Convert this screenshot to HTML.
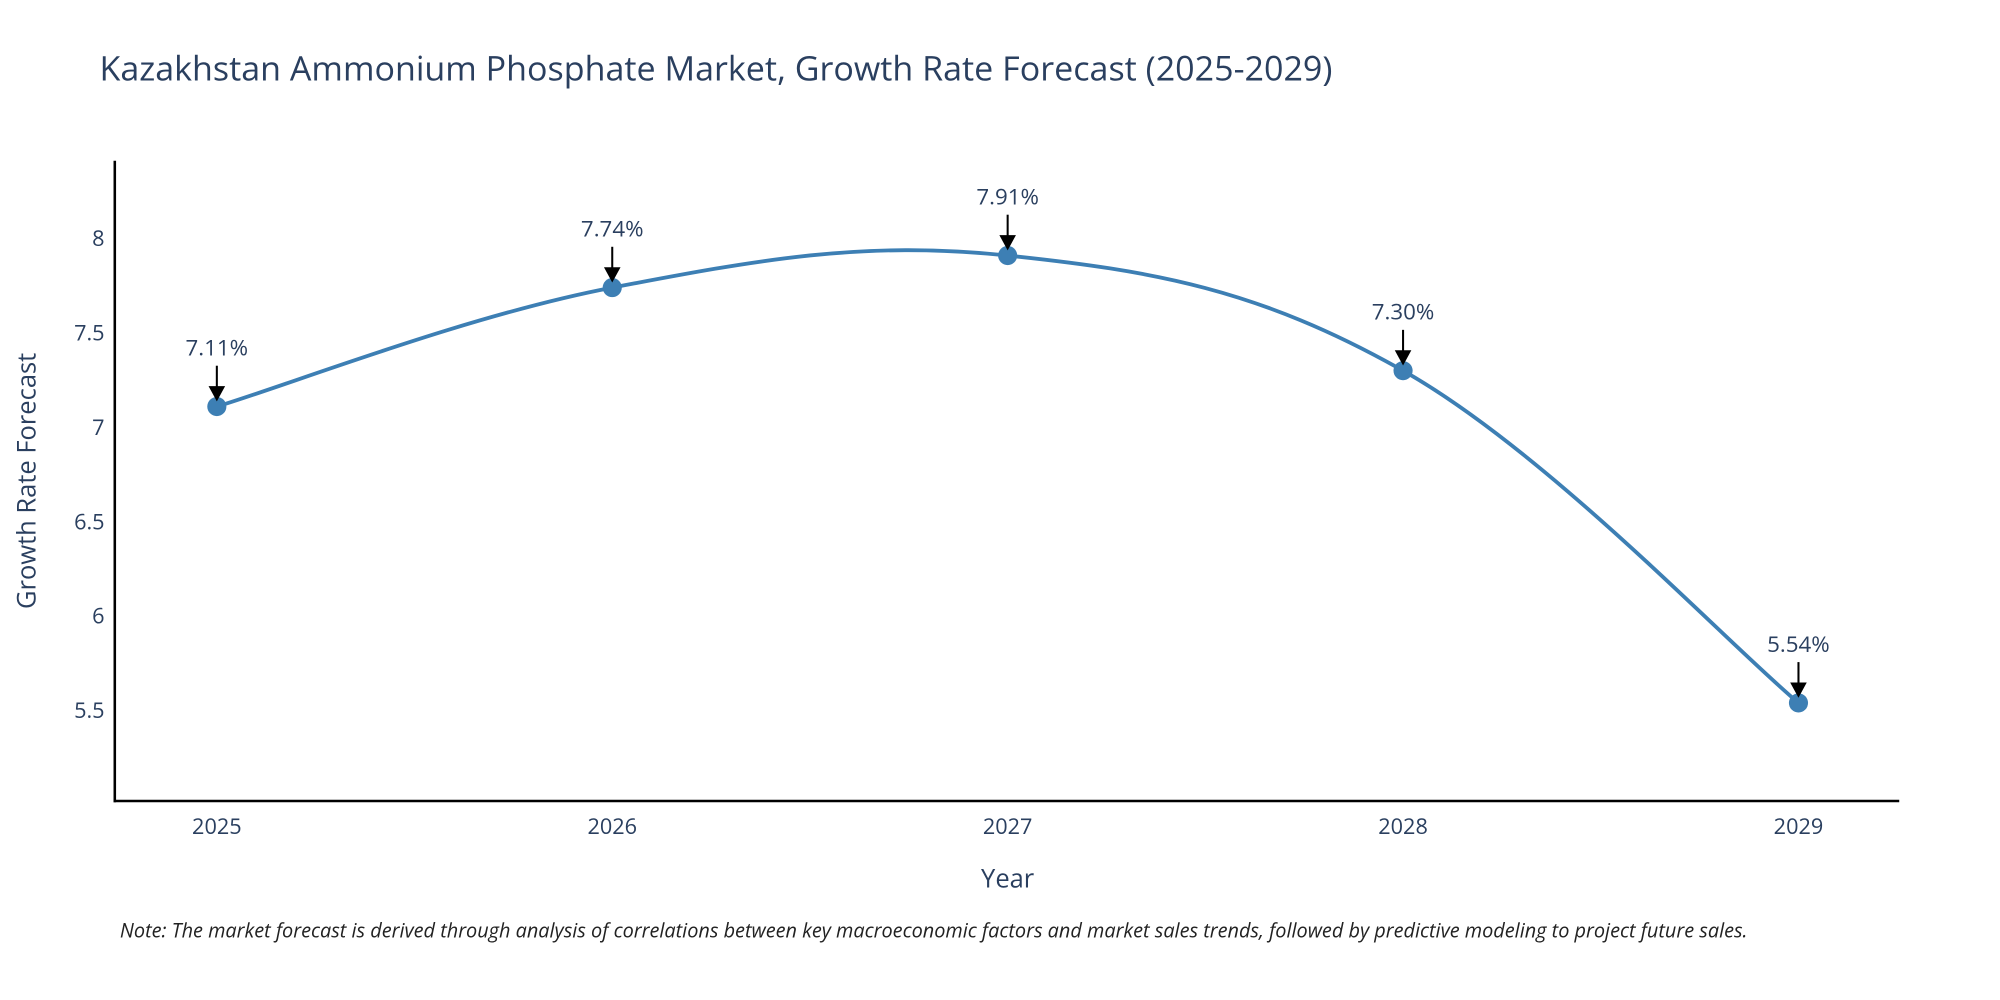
<!DOCTYPE html>
<html><head><meta charset="utf-8"><style>
html,body{margin:0;padding:0;background:#fff;}
svg{display:block;font-family:"Open Sans","Liberation Sans",sans-serif;}
</style></head><body>
<svg id="chart" width="2000" height="1000" viewBox="0 0 1568 784" xmlns="http://www.w3.org/2000/svg">
<rect width="1568" height="784" fill="#fff"/>
<text x="78" y="63" font-size="26.7" fill="#2a3f5f">Kazakhstan Ammonium Phosphate Market, Growth Rate Forecast (2025-2029)</text>
<g id="yticks"></g><g id="xticks"></g>
<line x1="90" y1="126" x2="90" y2="629" stroke="#000" stroke-width="2"/>
<line x1="89" y1="628" x2="1489" y2="628" stroke="#000" stroke-width="2"/>
<text transform="translate(28,377) rotate(-90)" text-anchor="middle" font-size="20" fill="#2a3f5f">Growth Rate Forecast</text>
<text x="790" y="696" text-anchor="middle" font-size="20" fill="#2a3f5f">Year</text>
<g id="series"></g>
<text x="94" y="735" font-size="15.6" font-style="italic" fill="#222">Note: The market forecast is derived through analysis of correlations between key macroeconomic factors and market sales trends, followed by predictive modeling to project future sales.</text>
</svg>
<script>
const years = [2025, 2026, 2027, 2028, 2029];
const values = [7.11, 7.74, 7.91, 7.30, 5.54];
const labels = ["7.11%", "7.74%", "7.91%", "7.30%", "5.54%"];
const yTicks = [5.5, 6, 6.5, 7, 7.5, 8];
const NS = "http://www.w3.org/2000/svg";
function xs(yr){ return 170 + (yr - 2025) * 310; }
function ys(v){ return 187 + (8 - v) * 148; }
function mk(tag, attrs, parent){ const e=document.createElementNS(NS,tag); for(const k in attrs) e.setAttribute(k,attrs[k]); parent.appendChild(e); return e; }
const yg=document.getElementById('yticks'), xg=document.getElementById('xticks'), sg=document.getElementById('series');
yTicks.forEach(t=>{
  const e=mk('text',{x:82,y:ys(t)+6,'text-anchor':'end','font-size':17,fill:'#2a3f5f'},yg);
  
  
  e.textContent=t;
});
years.forEach(yr=>{
  const e=mk('text',{x:xs(yr),y:654,'text-anchor':'middle','font-size':17,fill:'#2a3f5f'},xg);
  
  
  e.textContent=yr;
});
const P=years.map((yr,i)=>[xs(yr),ys(values[i])]);
let d=`M${P[0][0]},${P[0][1]}`;
const t=0.55;
for(let i=0;i<P.length-1;i++){
  const p0=P[Math.max(i-1,0)],p1=P[i],p2=P[i+1],p3=P[Math.min(i+2,P.length-1)];
  const c1=[p1[0]+(p2[0]-p0[0])*t/3, p1[1]+(p2[1]-p0[1])*t/3];
  const c2=[p2[0]-(p3[0]-p1[0])*t/3, p2[1]-(p3[1]-p1[1])*t/3];
  d+=` C${c1[0]},${c1[1]} ${c2[0]},${c2[1]} ${p2[0]},${p2[1]}`;
}
const line=mk('path',{d:d,fill:'none',stroke:'#3d7fb4','stroke-width':3},sg);


P.forEach((p,i)=>{
  const c=mk('circle',{cx:p[0],cy:p[1],r:7.5,fill:'#3d7fb4'},sg);
  
  
  const a=mk('line',{x1:p[0],y1:p[1]-32,x2:p[0],y2:p[1]-14,stroke:'#000','stroke-width':1.6},sg);
  
  
  const h=mk('polygon',{points:`${p[0]-6.5},${p[1]-16} ${p[0]+6.5},${p[1]-16} ${p[0]},${p[1]-4}`,fill:'#000'},sg);
  
  
  const tx=mk('text',{x:p[0],y:p[1]-40,'text-anchor':'middle','font-size':17.5,fill:'#2a3f5f'},sg);
  
  
  tx.textContent=labels[i];
});
</script>
</body></html>
